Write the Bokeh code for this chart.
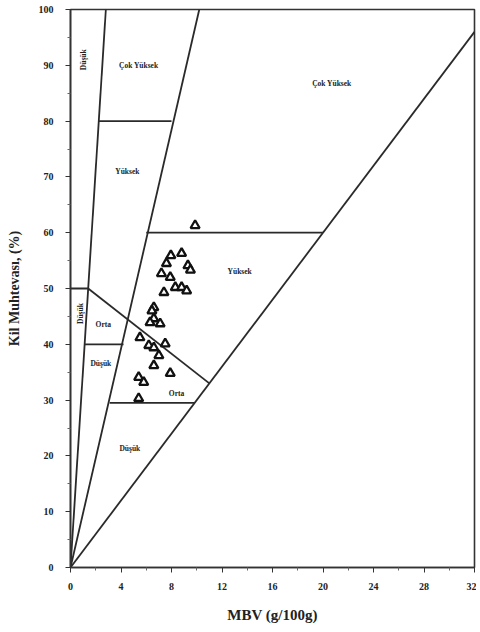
import math
from bokeh.plotting import figure
from bokeh.models import Range1d, FixedTicker, ColumnDataSource
from bokeh.core.properties import value
from bokeh.embed import file_html
from bokeh.resources import INLINE

# boundary segments of the classification chart (MBV, clay %)
seg_x0 = [0, 0, 0, 2.2, 6.0, 0, 1.4, 1.1, 3.1]
seg_y0 = [0, 0, 0, 80, 60, 50, 50, 40, 29.5]
seg_x1 = [2.8, 10.2, 32, 8.0, 20.0, 1.4, 11.0, 4.2, 9.8]
seg_y1 = [100, 100, 96, 80, 60, 50, 33, 40, 29.5]

# sample points
mbv = [9.87, 7.95, 8.8, 9.3, 9.5, 7.6, 7.2, 7.9, 8.3, 8.8, 9.2, 7.4, 6.6,
       6.45, 6.6, 6.3, 7.1, 5.5, 6.2, 6.6, 7.5, 7.0, 6.6, 7.9, 5.4, 5.8, 5.4]
clay = [61.3, 55.9, 56.3, 54.1, 53.3, 54.5, 52.7, 52.0, 50.2, 50.2, 49.6, 49.3, 46.6,
        46.0, 44.6, 43.9, 43.7, 41.2, 39.8, 39.4, 40.1, 38.0, 36.2, 34.8, 34.1, 33.2, 30.3]

# region labels
lab_text = ["Düşük", "Çok Yüksek", "Yüksek", "Çok Yüksek", "Yüksek",
            "Düşük", "Orta", "Düşük", "Orta", "Düşük"]
lab_x = [1.0, 5.4, 4.5, 20.7, 13.4, 0.8, 2.6, 2.4, 8.4, 4.7]
lab_y = [91, 90, 71, 86.7, 53, 45.5, 43.5, 36.5, 31.2, 21.3]
lab_angle = [90, 0, 0, 0, 0, 90, 0, 0, 0, 0]

x_ticks = [0, 4, 8, 12, 16, 20, 24, 28, 32]
y_ticks = [0, 10, 20, 30, 40, 50, 60, 70, 80, 90, 100]

FONT = "Liberation Serif"

p = figure(width=476, height=630, output_backend="svg", toolbar_location=None,
           x_range=Range1d(0, 32), y_range=Range1d(0, 100),
           min_border_left=70, min_border_right=2, min_border_top=9, min_border_bottom=63)
p.grid.visible = False
p.background_fill_color = "white"
p.border_fill_color = "white"
p.outline_line_color = "#333333"
p.outline_line_width = 1.6

p.segment(x0=seg_x0, y0=seg_y0, x1=seg_x1, y1=seg_y1, line_color="#2a2a2a", line_width=1.8)

p.scatter(mbv, clay, marker="triangle", size=9, fill_color="white",
          line_color="#111111", line_width=2.3)

src = ColumnDataSource(dict(x=lab_x, y=lab_y, t=lab_text,
                            a=[math.radians(v) for v in lab_angle]))
p.text(x="x", y="y", text="t", angle="a", source=src, text_font=value(FONT),
       text_font_style="bold", text_font_size="7.5px", text_align="center",
       text_baseline="middle", text_color="#222222")

for ax, ticks in ((p.xaxis[0], x_ticks), (p.yaxis[0], y_ticks)):
    ax.ticker = FixedTicker(ticks=ticks,
                            minor_ticks=[t + (ticks[1] - ticks[0]) / 2 for t in ticks[:-1]])
    ax.major_label_text_font = FONT
    ax.major_label_text_font_style = "bold"
    ax.major_label_text_font_size = "10px"
    ax.major_label_text_color = "#222222"
    ax.axis_line_color = "#333333"
    ax.axis_line_width = 1.6
    ax.major_tick_line_color = "#333333"
    ax.minor_tick_line_color = "#666666"
    ax.major_tick_out = 5
    ax.major_tick_in = 0
    ax.minor_tick_out = 3
    ax.minor_tick_in = 0
    ax.axis_label_text_font = FONT
    ax.axis_label_text_font_style = "bold"
    ax.axis_label_text_color = "#222222"

p.xaxis.major_label_standoff = 10
p.yaxis.major_label_standoff = 12
p.xaxis.axis_label = "MBV (g/100g)"
p.yaxis.axis_label = "Kil Muhtevası, (%)"
p.xaxis.axis_label_text_font_size = "15px"
p.yaxis.axis_label_text_font_size = "14px"
p.xaxis.axis_label_standoff = 14
p.yaxis.axis_label_standoff = 14

open("out.html", "w").write(file_html(p, INLINE))
